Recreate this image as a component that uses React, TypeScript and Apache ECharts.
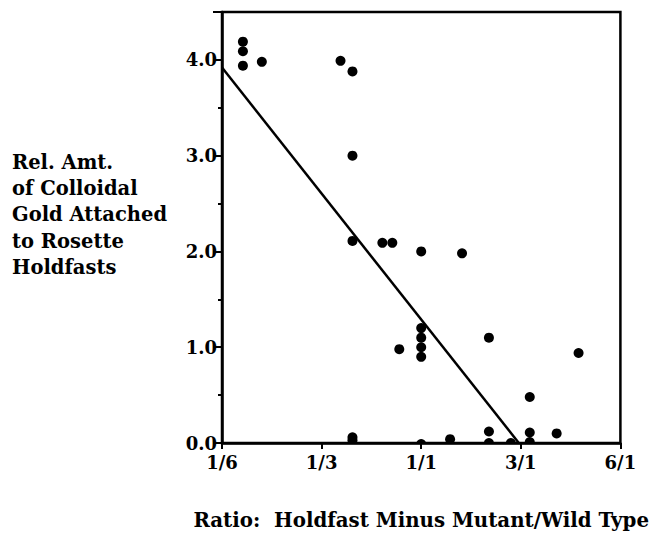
import React, { useEffect, useRef } from "react";
import * as echarts from "echarts";

// x positions: 0 = 1/6, 1 = 1/3, 2 = 1/1, 3 = 3/1, 4 = 6/1 (equally spaced ratio ticks)
const xTickLabels = ["1/6", "1/3", "1/1", "3/1", "6/1"];
const pointX = [
  0.21, 0.21, 0.21, 0.4, 1.19, 1.31, 1.31, 1.31, 1.61, 1.71, 2.0, 2.41,
  2.0, 2.0, 2.0, 2.0, 1.78, 2.68, 3.58, 3.09, 1.31, 1.31, 2.0, 2.29,
  2.68, 2.68, 2.9, 3.09, 3.09, 3.36,
];
const pointY = [
  4.19, 4.09, 3.94, 3.98, 3.99, 3.88, 3.0, 2.11, 2.09, 2.09, 2.0, 1.98,
  1.2, 1.1, 1.0, 0.9, 0.98, 1.1, 0.94, 0.48, 0.06, 0.03, -0.01, 0.04,
  0.12, 0.0, 0.0, 0.11, 0.01, 0.1,
];
const fitX = [0, 2.98];
const fitY = [3.92, 0];
const yTitleLines = [
  "Rel. Amt.",
  "of Colloidal",
  "Gold Attached",
  "to Rosette",
  "Holdfasts",
];
const xTitle = "Ratio:  Holdfast Minus Mutant/Wild Type";

const FONT = "'DejaVu Serif', serif";

export default function App() {
  const ref = useRef<HTMLDivElement>(null);
  useEffect(() => {
    if (!ref.current) return;
    const chart = echarts.init(ref.current, undefined, { renderer: "svg" });
    const points = pointX.map((x, i) => [x, pointY[i]]);
    const fit = fitX.map((x, i) => [x, fitY[i]]);
    chart.setOption({
      animation: false,
      backgroundColor: "#fff",
      textStyle: { fontFamily: FONT },
      grid: {
        left: 222,
        right: 30,
        top: 12,
        bottom: 83,
        show: true,
        borderColor: "#000",
        borderWidth: 2.5,
        backgroundColor: "transparent",
      },
      xAxis: {
        type: "value",
        min: 0,
        max: 4,
        interval: 1,
        name: xTitle,
        nameLocation: "middle",
        nameGap: 67,
        nameTextStyle: {
          color: "#000",
          fontFamily: FONT,
          fontWeight: "bold",
          fontSize: 19.8,
        },
        axisLine: { lineStyle: { color: "#000", width: 2.5 } },
        axisTick: { show: true, length: 6, lineStyle: { color: "#000", width: 2 } },
        splitLine: { show: false },
        axisLabel: {
          color: "#000",
          fontFamily: FONT,
          fontWeight: "bold",
          fontSize: 18,
          margin: 10,
          formatter: (v: number) => xTickLabels[Math.round(v)] ?? "",
        },
      },
      yAxis: {
        type: "value",
        min: 0,
        max: 4.5,
        interval: 1,
        axisLine: { show: true, lineStyle: { color: "#000", width: 2.5 } },
        axisTick: { show: true, length: 9, lineStyle: { color: "#000", width: 2 } },
        minorTick: { show: true, splitNumber: 2, length: 4, lineStyle: { color: "#000", width: 2 } },
        splitLine: { show: false },
        axisLabel: {
          color: "#000",
          fontFamily: FONT,
          fontWeight: "bold",
          fontSize: 18,
          margin: 5,
          showMaxLabel: false,
          formatter: (v: number) => (v > 4.2 ? "" : v.toFixed(1)),
        },
      },
      graphic: [
        {
          type: "text",
          left: 12,
          top: 149,
          style: {
            text: yTitleLines.join("\n"),
            font: `bold 19.5px ${FONT}`,
            lineHeight: 26.3,
            fill: "#000",
          },
        },
      ],
      series: [
        {
          type: "line",
          data: fit,
          symbol: "none",
          lineStyle: { color: "#000", width: 2.5 },
          z: 3,
        },
        {
          type: "custom",
          clip: true,
          data: points,
          z: 4,
          renderItem: (_params: any, api: any) => {
            const p = api.coord([api.value(0), api.value(1)]);
            return {
              type: "circle",
              shape: { cx: p[0], cy: p[1], r: 5 },
              style: { fill: "#000" },
            };
          },
        },
      ],
    });
    return () => chart.dispose();
  }, []);
  return (
    <div
      ref={ref}
      style={{ position: "fixed", left: 0, top: 0, width: 652, height: 535 }}
    />
  );
}
